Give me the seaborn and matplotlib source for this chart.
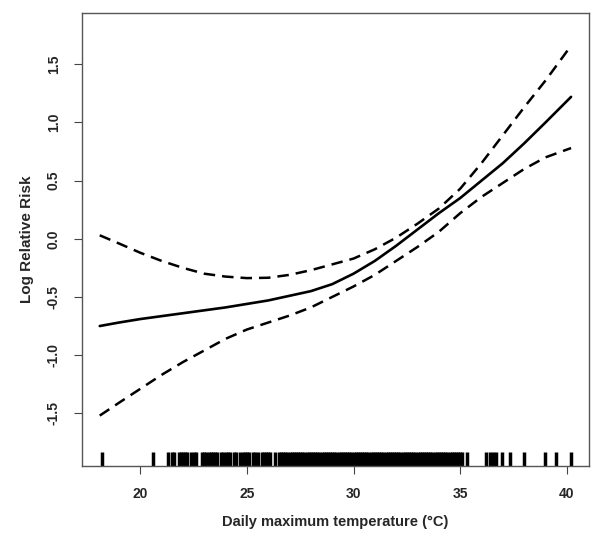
import numpy as np
import pandas as pd
import matplotlib
matplotlib.use("Agg")
import matplotlib.pyplot as plt
import seaborn as sns

# ---------------- data ----------------
temp = [18.1, 19, 20, 21, 22, 23, 24, 25, 26, 27, 28, 29, 30,
        31, 32, 33, 34, 35, 36, 37, 38, 39, 40.2]
log_rr = [-0.75, -0.72, -0.69, -0.665, -0.64, -0.615, -0.59, -0.56, -0.53,
          -0.49, -0.45, -0.39, -0.30, -0.19, -0.06, 0.08, 0.22, 0.35, 0.50,
          0.65, 0.82, 1.00, 1.22]
upper_ci = [0.03, -0.04, -0.12, -0.19, -0.25, -0.30, -0.325, -0.338, -0.335,
            -0.31, -0.27, -0.22, -0.17, -0.09, 0.01, 0.13, 0.26, 0.43, 0.65,
            0.89, 1.13, 1.36, 1.66]
lower_ci = [-1.52, -1.41, -1.29, -1.17, -1.06, -0.96, -0.86, -0.78, -0.72,
            -0.66, -0.59, -0.50, -0.41, -0.31, -0.19, -0.07, 0.06, 0.22, 0.36,
            0.48, 0.60, 0.70, 0.78]

# observed daily maximum temperatures (rug)
rug_temps = [
    18.2, 20.6, 21.3, 21.5, 21.6, 21.8, 21.9, 22.0, 22.1, 22.2, 22.4, 22.5, 22.6,
    22.9, 23.0, 23.1, 23.2, 23.3, 23.4, 23.5, 23.6, 23.8, 23.9, 24.0, 24.1, 24.2,
    24.4, 24.5, 24.7, 24.8, 24.9, 25.0, 25.1, 25.3, 25.4, 25.5, 25.7, 25.8, 25.9,
    26.0, 26.1, 26.3,
    26.5, 26.6, 26.7, 26.8, 26.9, 27.0, 27.1, 27.2, 27.3, 27.4, 27.5, 27.6, 27.7,
    27.8, 27.9, 28.0, 28.1, 28.2, 28.3, 28.4, 28.5, 28.6, 28.7, 28.8, 28.9, 29.0,
    29.1, 29.2, 29.3, 29.4, 29.5, 29.6, 29.7, 29.8, 29.9, 30.0, 30.1, 30.2, 30.3,
    30.4, 30.5, 30.6, 30.7, 30.8, 30.9, 31.0, 31.1, 31.2, 31.3, 31.4, 31.5, 31.6,
    31.7, 31.8, 31.9, 32.0, 32.1, 32.2, 32.3, 32.4, 32.5, 32.6, 32.7, 32.8, 32.9,
    33.0, 33.1, 33.2, 33.3, 33.4, 33.5, 33.6, 33.7, 33.8, 33.9, 34.0, 34.1, 34.2,
    34.3, 34.4, 34.5, 34.6, 34.7, 34.8, 34.9, 35.0, 35.1,
    35.3, 36.2, 36.4, 36.55, 36.7, 36.95, 37.35, 38.0, 39.0, 39.5, 40.2,
]

x_ticks = [20, 25, 30, 35, 40]
y_ticks = [-1.5, -1.0, -0.5, 0.0, 0.5, 1.0, 1.5]

df = pd.DataFrame({"temp": temp, "est": log_rr, "hi": upper_ci, "lo": lower_ci})

# ---------------- figure ----------------
sns.set_style("white")
plt.rcParams["font.family"] = ["Liberation Sans", "DejaVu Sans"]

fig = plt.figure(figsize=(6.0, 5.45), dpi=100)
ax = fig.add_axes([0.136, 0.145, 0.846, 0.832])

dash = (0, (4.6, 2.8))
sns.lineplot(data=df, x="temp", y="est", ax=ax, color="black", lw=1.9)
sns.lineplot(data=df, x="temp", y="hi", ax=ax, color="black", lw=1.8, linestyle=dash)
sns.lineplot(data=df, x="temp", y="lo", ax=ax, color="black", lw=1.8, linestyle=dash)

sns.rugplot(x=rug_temps, ax=ax, height=0.031, color="black", linewidth=2.5,
            expand_margins=False)

ax.set_xlim(17.25, 41.05)
ax.set_ylim(-1.953, 1.945)
ax.set_xticks(x_ticks)
ax.set_yticks(y_ticks)
ax.set_xticklabels([str(t) for t in x_ticks], fontsize=10, fontweight="bold")
ax.set_yticklabels([f"{t:.1f}" for t in y_ticks], fontsize=10, fontweight="bold",
                   rotation=90, va="center")
ax.tick_params(axis="both", direction="out", length=6, width=0.8, color="#444444",
               pad=9, bottom=True, left=True)

for sp in ax.spines.values():
    sp.set_color("#555555")
    sp.set_linewidth(1.0)

ax.set_xlabel("Daily maximum temperature (°C)", fontsize=10.5, fontweight="bold", labelpad=10)
ax.set_ylabel("Log Relative Risk", fontsize=11, fontweight="bold", labelpad=9)

fig.savefig("out.png", dpi=100)
